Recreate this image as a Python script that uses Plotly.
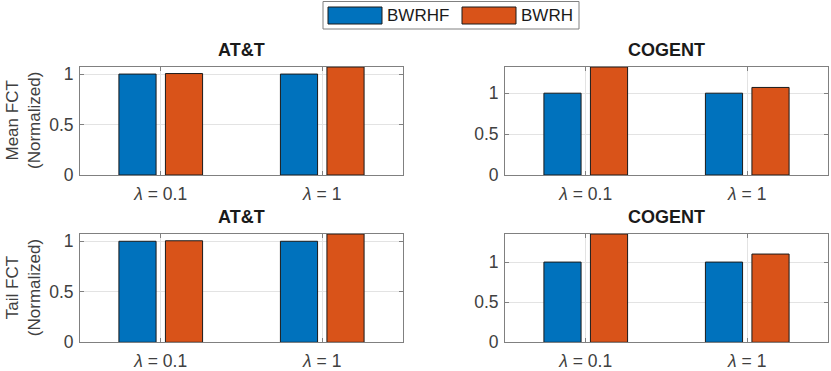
# Third Party Imports
import plotly.graph_objects as go

# data
categories = [1, 2]  # numeric slots for the two lambda values
tick_labels = ['<i>λ</i> = 0.1', '<i>λ</i> = 1']
series_names = ['BWRHF', 'BWRH']

mean_att_bwrhf = [1.0, 1.0]
mean_att_bwrh = [1.005, 1.07]
mean_cogent_bwrhf = [1.0, 1.0]
mean_cogent_bwrh = [1.32, 1.07]
tail_att_bwrhf = [1.0, 1.0]
tail_att_bwrh = [1.005, 1.072]
tail_cogent_bwrhf = [1.0, 1.0]
tail_cogent_bwrh = [1.35, 1.10]

panel_titles = ['AT&T', 'COGENT', 'AT&T', 'COGENT']
row_titles = ['Mean FCT<br>(Normalized)', 'Tail FCT<br>(Normalized)']

BLUE = '#0072BD'
RED = '#D95319'
W, H = 831, 371
FONT = 'Liberation Sans, Arial, sans-serif'


def px(x):
    # pixel -> paper x
    return x / W


def py(y):
    # pixel -> paper y (measured from top)
    return 1 - y / H


panels = [
    # (blue values, red values, x domain px, y domain px)
    (mean_att_bwrhf, mean_att_bwrh, (80, 403), (67, 175)),
    (mean_cogent_bwrhf, mean_cogent_bwrh, (505, 828), (67, 175)),
    (tail_att_bwrhf, tail_att_bwrh, (80, 403), (234, 342.3)),
    (tail_cogent_bwrhf, tail_cogent_bwrh, (505, 828), (234, 342.3)),
]

fig = go.Figure()
layout = {}

for i, (blue_vals, red_vals, xdom, ydom) in enumerate(panels):
    n = '' if i == 0 else str(i + 1)
    # bar width / offset in category units, matlab style grouped bars
    for name, vals, color, off in [(series_names[0], blue_vals, BLUE, -0.259),
                                   (series_names[1], red_vals, RED, 0.029)]:
        fig.add_trace(go.Bar(
            x=categories, y=vals, name=name, width=0.23, offset=off,
            marker=dict(color=color, line=dict(color='#1a1a1a', width=1)),
            xaxis='x' + n, yaxis='y' + n, showlegend=False,
            hoverinfo='x+y+name'))

    top = max(blue_vals + red_vals)
    axis_common = dict(
        showline=True, linecolor='#808080', linewidth=1, mirror='ticks',
        ticks='inside', ticklen=4, tickcolor='#808080', automargin=False,
        showgrid=True, gridcolor='#e3e3e3', gridwidth=1, zeroline=False,
        tickfont=dict(family=FONT, size=17.5, color='#404040'))
    layout['xaxis' + n] = dict(
        axis_common, domain=[px(xdom[0]), px(xdom[1])], anchor='y' + n,
        range=[0.5, 2.5], tickmode='array', tickvals=categories,
        ticktext=tick_labels, ticklabelstandoff=3)
    layout['yaxis' + n] = dict(
        axis_common, domain=[py(ydom[1]), py(ydom[0])], anchor='x' + n,
        range=[0, top], tickmode='array', tickvals=[0, 0.5, 1],
        ticktext=['0', '0.5', '1'], ticklabelstandoff=2)

annotations = []
# panel titles
for i, (_, _, xdom, ydom) in enumerate(panels):
    annotations.append(dict(
        text='<b>%s</b>' % panel_titles[i], xref='paper', yref='paper',
        x=px((xdom[0] + xdom[1]) / 2), y=py(ydom[0] - 17),
        xanchor='center', yanchor='middle', showarrow=False,
        font=dict(family=FONT, size=18, color='#1a1a1a')))

# row (y axis) titles
for r, (_, _, xdom, ydom) in enumerate([panels[0], panels[2]]):
    annotations.append(dict(
        text=row_titles[r], xref='paper', yref='paper',
        x=px(23), y=py((ydom[0] + ydom[1]) / 2), textangle=-90,
        xanchor='center', yanchor='middle', showarrow=False,
        font=dict(family=FONT, size=17, color='#404040')))

# hand-drawn legend so the swatches look like the MATLAB ones
shapes = [dict(type='rect', xref='paper', yref='paper',
               x0=px(323), x1=px(579), y0=py(29), y1=py(1.5),
               line=dict(color='#808080', width=1), fillcolor='white')]
for name, color, sx in [(series_names[0], BLUE, 328), (series_names[1], RED, 462)]:
    shapes.append(dict(type='rect', xref='paper', yref='paper',
                       x0=px(sx), x1=px(sx + 54), y0=py(24), y1=py(7),
                       line=dict(color='#1a1a1a', width=1), fillcolor=color))
    annotations.append(dict(
        text=name, xref='paper', yref='paper', x=px(sx + 57), y=py(16),
        xanchor='left', yanchor='middle', showarrow=False,
        font=dict(family=FONT, size=17, color='#1a1a1a')))

fig.update_layout(
    **layout,
    width=W, height=H, margin=dict(l=0, r=0, t=0, b=0),
    paper_bgcolor='white', plot_bgcolor='white',
    annotations=annotations, shapes=shapes, showlegend=False)

# drop the default body margin so the figure sits at the page corner
fig.write_html("out.html", config={'displayModeBar': False},
               post_script="document.body.style.margin='0';")
